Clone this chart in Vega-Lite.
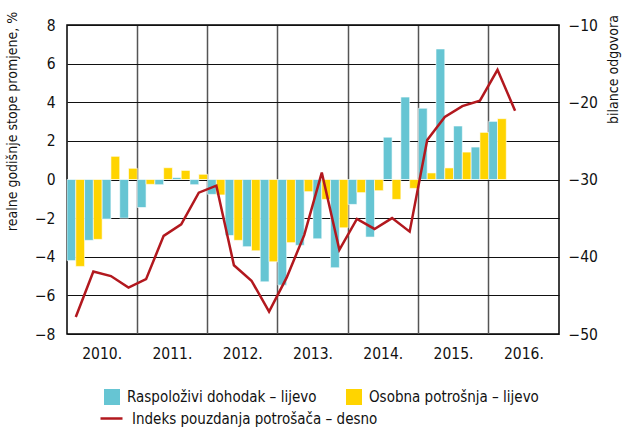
{
  "$schema": "https://vega.github.io/schema/vega-lite/v6.json",
  "width": 492,
  "height": 309,
  "autosize": {"type": "none"},
  "padding": {"left": 67, "top": 25, "right": 63, "bottom": 94},
  "background": "white",
  "config": {
    "font": "Liberation Sans Narrow, Arial Narrow, DejaVu Sans Condensed, sans-serif",
    "view": {"stroke": "#000000", "strokeWidth": 1.5},
    "axis": {"domain": false, "ticks": false, "labelFontSize": 15.5, "labelColor": "#111111", "titleFontSize": 14, "titleFontWeight": "normal", "titleColor": "#111111", "labelOverlap": false, "labelFlush": false, "labelBound": false},
    "legend": {"labelFontSize": 15, "labelColor": "#111111", "padding": 0, "labelLimit": 400}
  },
  "datasets": {
    "bars": [
      {"q": "2010Q1", "series": "Raspoloživi dohodak – lijevo", "value": -4.2},
      {"q": "2010Q1", "series": "Osobna potrošnja – lijevo", "value": -4.5},
      {"q": "2010Q2", "series": "Raspoloživi dohodak – lijevo", "value": -3.15},
      {"q": "2010Q2", "series": "Osobna potrošnja – lijevo", "value": -3.1},
      {"q": "2010Q3", "series": "Raspoloživi dohodak – lijevo", "value": -2.05},
      {"q": "2010Q3", "series": "Osobna potrošnja – lijevo", "value": 1.2},
      {"q": "2010Q4", "series": "Raspoloživi dohodak – lijevo", "value": -2.0},
      {"q": "2010Q4", "series": "Osobna potrošnja – lijevo", "value": 0.58},
      {"q": "2011Q1", "series": "Raspoloživi dohodak – lijevo", "value": -1.45},
      {"q": "2011Q1", "series": "Osobna potrošnja – lijevo", "value": -0.25},
      {"q": "2011Q2", "series": "Raspoloživi dohodak – lijevo", "value": -0.27},
      {"q": "2011Q2", "series": "Osobna potrošnja – lijevo", "value": 0.61},
      {"q": "2011Q3", "series": "Raspoloživi dohodak – lijevo", "value": 0.1},
      {"q": "2011Q3", "series": "Osobna potrošnja – lijevo", "value": 0.47},
      {"q": "2011Q4", "series": "Raspoloživi dohodak – lijevo", "value": -0.27},
      {"q": "2011Q4", "series": "Osobna potrošnja – lijevo", "value": 0.27},
      {"q": "2012Q1", "series": "Raspoloživi dohodak – lijevo", "value": -0.77},
      {"q": "2012Q1", "series": "Osobna potrošnja – lijevo", "value": -0.8},
      {"q": "2012Q2", "series": "Raspoloživi dohodak – lijevo", "value": -2.9},
      {"q": "2012Q2", "series": "Osobna potrošnja – lijevo", "value": -3.15},
      {"q": "2012Q3", "series": "Raspoloživi dohodak – lijevo", "value": -3.48},
      {"q": "2012Q3", "series": "Osobna potrošnja – lijevo", "value": -3.69},
      {"q": "2012Q4", "series": "Raspoloživi dohodak – lijevo", "value": -5.3},
      {"q": "2012Q4", "series": "Osobna potrošnja – lijevo", "value": -4.26},
      {"q": "2013Q1", "series": "Raspoloživi dohodak – lijevo", "value": -5.47},
      {"q": "2013Q1", "series": "Osobna potrošnja – lijevo", "value": -3.27},
      {"q": "2013Q2", "series": "Raspoloživi dohodak – lijevo", "value": -3.41},
      {"q": "2013Q2", "series": "Osobna potrošnja – lijevo", "value": -0.63},
      {"q": "2013Q3", "series": "Raspoloživi dohodak – lijevo", "value": -3.07},
      {"q": "2013Q3", "series": "Osobna potrošnja – lijevo", "value": -1.03},
      {"q": "2013Q4", "series": "Raspoloživi dohodak – lijevo", "value": -4.57},
      {"q": "2013Q4", "series": "Osobna potrošnja – lijevo", "value": -2.5},
      {"q": "2014Q1", "series": "Raspoloživi dohodak – lijevo", "value": -1.29},
      {"q": "2014Q1", "series": "Osobna potrošnja – lijevo", "value": -0.68},
      {"q": "2014Q2", "series": "Raspoloživi dohodak – lijevo", "value": -2.98},
      {"q": "2014Q2", "series": "Osobna potrošnja – lijevo", "value": -0.58},
      {"q": "2014Q3", "series": "Raspoloživi dohodak – lijevo", "value": 2.19},
      {"q": "2014Q3", "series": "Osobna potrošnja – lijevo", "value": -1.03},
      {"q": "2014Q4", "series": "Raspoloživi dohodak – lijevo", "value": 4.27},
      {"q": "2014Q4", "series": "Osobna potrošnja – lijevo", "value": -0.46},
      {"q": "2015Q1", "series": "Raspoloživi dohodak – lijevo", "value": 3.69},
      {"q": "2015Q1", "series": "Osobna potrošnja – lijevo", "value": 0.34},
      {"q": "2015Q2", "series": "Raspoloživi dohodak – lijevo", "value": 6.76},
      {"q": "2015Q2", "series": "Osobna potrošnja – lijevo", "value": 0.6},
      {"q": "2015Q3", "series": "Raspoloživi dohodak – lijevo", "value": 2.77},
      {"q": "2015Q3", "series": "Osobna potrošnja – lijevo", "value": 1.42},
      {"q": "2015Q4", "series": "Raspoloživi dohodak – lijevo", "value": 1.68},
      {"q": "2015Q4", "series": "Osobna potrošnja – lijevo", "value": 2.44},
      {"q": "2016Q1", "series": "Raspoloživi dohodak – lijevo", "value": 3.01},
      {"q": "2016Q1", "series": "Osobna potrošnja – lijevo", "value": 3.15}
    ],
    "line": [
      {"q": "2010Q1", "series": "Indeks pouzdanja potrošača – desno", "value": -47.8},
      {"q": "2010Q2", "series": "Indeks pouzdanja potrošača – desno", "value": -41.9},
      {"q": "2010Q3", "series": "Indeks pouzdanja potrošača – desno", "value": -42.5},
      {"q": "2010Q4", "series": "Indeks pouzdanja potrošača – desno", "value": -44.0},
      {"q": "2011Q1", "series": "Indeks pouzdanja potrošača – desno", "value": -42.9},
      {"q": "2011Q2", "series": "Indeks pouzdanja potrošača – desno", "value": -37.3},
      {"q": "2011Q3", "series": "Indeks pouzdanja potrošača – desno", "value": -35.8},
      {"q": "2011Q4", "series": "Indeks pouzdanja potrošača – desno", "value": -31.7},
      {"q": "2012Q1", "series": "Indeks pouzdanja potrošača – desno", "value": -30.8},
      {"q": "2012Q2", "series": "Indeks pouzdanja potrošača – desno", "value": -41.1},
      {"q": "2012Q3", "series": "Indeks pouzdanja potrošača – desno", "value": -43.1},
      {"q": "2012Q4", "series": "Indeks pouzdanja potrošača – desno", "value": -47.1},
      {"q": "2013Q1", "series": "Indeks pouzdanja potrošača – desno", "value": -42.7},
      {"q": "2013Q2", "series": "Indeks pouzdanja potrošača – desno", "value": -37.2},
      {"q": "2013Q3", "series": "Indeks pouzdanja potrošača – desno", "value": -29.1},
      {"q": "2013Q4", "series": "Indeks pouzdanja potrošača – desno", "value": -39.1},
      {"q": "2014Q1", "series": "Indeks pouzdanja potrošača – desno", "value": -35.1},
      {"q": "2014Q2", "series": "Indeks pouzdanja potrošača – desno", "value": -36.4},
      {"q": "2014Q3", "series": "Indeks pouzdanja potrošača – desno", "value": -35.0},
      {"q": "2014Q4", "series": "Indeks pouzdanja potrošača – desno", "value": -36.75},
      {"q": "2015Q1", "series": "Indeks pouzdanja potrošača – desno", "value": -24.9},
      {"q": "2015Q2", "series": "Indeks pouzdanja potrošača – desno", "value": -21.9},
      {"q": "2015Q3", "series": "Indeks pouzdanja potrošača – desno", "value": -20.5},
      {"q": "2015Q4", "series": "Indeks pouzdanja potrošača – desno", "value": -19.8},
      {"q": "2016Q1", "series": "Indeks pouzdanja potrošača – desno", "value": -15.8},
      {"q": "2016Q2", "series": "Indeks pouzdanja potrošača – desno", "value": -21.1}
    ]
  },
  "layer": [
    {
      "data": {"name": "bars"},
      "mark": {"type": "bar", "stroke": "white", "strokeWidth": 0.6},
      "encoding": {
        "x": {
          "field": "q",
          "type": "ordinal",
          "scale": {
            "type": "band",
            "paddingInner": 0,
            "paddingOuter": 0,
            "domain": ["2010Q1","2010Q2","2010Q3","2010Q4","2011Q1","2011Q2","2011Q3","2011Q4","2012Q1","2012Q2","2012Q3","2012Q4","2013Q1","2013Q2","2013Q3","2013Q4","2014Q1","2014Q2","2014Q3","2014Q4","2015Q1","2015Q2","2015Q3","2015Q4","2016Q1","2016Q2","2016Q3","2016Q4"]
          },
          "axis": {
            "orient": "top",
            "title": null,
            "values": ["2010Q1","2011Q1","2012Q1","2013Q1","2014Q1","2015Q1","2016Q1"],
            "bandPosition": 0,
            "grid": true,
            "gridColor": "#555555",
            "gridWidth": 1.5,
            "labels": false
          }
        },
        "xOffset": {"field": "series", "type": "nominal", "sort": ["Raspoloživi dohodak – lijevo", "Osobna potrošnja – lijevo"], "scale": {"paddingInner": 0, "paddingOuter": 0}},
        "y": {
          "field": "value",
          "type": "quantitative",
          "scale": {"domain": [-8, 8], "nice": false},
          "axis": {
            "values": [-8, -6, -4, -2, 0, 2, 4, 6, 8],
            "grid": true,
            "gridColor": "#111111",
            "gridWidth": 1,
            "labelPadding": 12,
            "title": "realne godišnje stope promjene, %",
            "titleAngle": -90,
            "titleX": -55,
            "titleY": 96,
            "titleAlign": "center",
            "titleBaseline": "middle"
          }
        },
        "fill": {
          "field": "series",
          "type": "nominal",
          "scale": {"domain": ["Raspoloživi dohodak – lijevo", "Osobna potrošnja – lijevo"], "range": ["#66C5D3", "#FFD400"]},
          "legend": {
            "title": null,
            "orient": "none",
            "legendX": 37,
            "legendY": 364,
            "direction": "horizontal",
            "columns": 2,
            "columnPadding": 29,
            "symbolType": "square",
            "symbolSize": 256,
            "symbolStrokeWidth": 0,
            "labelOffset": 7
          }
        }
      }
    },
    {
      "data": {"name": "line"},
      "mark": {"type": "line", "strokeWidth": 2.5},
      "encoding": {
        "x": {
          "field": "q",
          "type": "ordinal",
          "axis": {
            "orient": "bottom",
            "title": null,
            "values": ["2010Q3","2011Q3","2012Q3","2013Q3","2014Q3","2015Q3","2016Q3"],
            "bandPosition": 0,
            "grid": false,
            "labelAngle": 0,
            "labelAlign": "center",
            "labelBaseline": "top",
            "labelPadding": 12,
            "labelOffset": -8.78,
            "labelExpr": "substring(datum.value, 0, 4) + '.'"
          }
        },
        "y": {
          "field": "value",
          "type": "quantitative",
          "scale": {"domain": [-50, -10], "nice": false},
          "axis": {
            "orient": "right",
            "values": [-50, -40, -30, -20, -10],
            "grid": false,
            "labelPadding": 9,
            "title": "bilance odgovora",
            "titleAngle": -90,
            "titleX": 54,
            "titleY": 44,
            "titleAlign": "center",
            "titleBaseline": "middle"
          }
        },
        "stroke": {
          "field": "series",
          "type": "nominal",
          "scale": {"range": ["#B2181E"]},
          "legend": {
            "title": null,
            "orient": "none",
            "legendX": 32,
            "legendY": 381,
            "symbolType": "stroke",
            "symbolSize": 484,
            "symbolStrokeWidth": 2.5,
            "labelOffset": 8
          }
        }
      }
    }
  ],
  "resolve": {"scale": {"y": "independent"}, "axis": {"x": "independent"}}
}
